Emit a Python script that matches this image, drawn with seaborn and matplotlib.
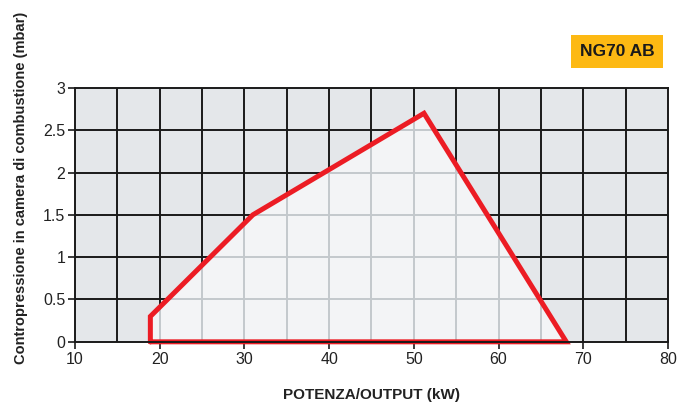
import matplotlib
matplotlib.use("Agg")
import matplotlib.pyplot as plt
import seaborn as sns
import numpy as np
import pandas as pd
from matplotlib.patches import Polygon

# Data
power_kw = [18.9, 18.9, 31.0, 51.2, 68.0, 18.9]
pressure_mbar = [0.0, 0.3, 1.5, 2.7, 0.0, 0.0]
x_ticks = [10, 20, 30, 40, 50, 60, 70, 80]
y_ticks = [0, 0.5, 1, 1.5, 2, 2.5, 3]
y_tick_labels = ["0", "0.5", "1", "1.5", "2", "2.5", "3"]
grid_x = [15, 20, 25, 30, 35, 40, 45, 50, 55, 60, 65, 70, 75]
grid_y = [0.5, 1, 1.5, 2, 2.5]
badge = "NG70 AB"
xlabel = "POTENZA/OUTPUT (kW)"
ylabel = "Contropressione in camera di combustione (mbar)"

sns.set_theme(style="white")
plt.rcParams['font.family'] = ['Liberation Sans', 'DejaVu Sans']

fig = plt.figure(figsize=(6.94, 4.05), dpi=100)
ax = fig.add_axes([0.108, 0.156, 0.8545, 0.627])
ax.set_facecolor("#e4e7ea")
ax.set_xlim(10, 80)
ax.set_ylim(0, 3)

# dark grid
for gx in grid_x:
    ax.axvline(gx, color="#1a1a1a", lw=1.4, zorder=1)
for gy in grid_y:
    ax.axhline(gy, color="#1a1a1a", lw=1.4, zorder=1)

# polygon fill
poly = Polygon(list(zip(power_kw, pressure_mbar)), closed=True,
               facecolor="#f3f4f6", edgecolor="none", zorder=2)
ax.add_patch(poly)

# light grid clipped inside polygon
for gx in grid_x:
    l = ax.axvline(gx, color="#c3c8cc", lw=1.4, zorder=3)
    l.set_clip_path(poly)
for gy in grid_y:
    l = ax.axhline(gy, color="#c3c8cc", lw=1.4, zorder=3)
    l.set_clip_path(poly)

df = pd.DataFrame({"x": power_kw, "y": pressure_mbar})
sns.lineplot(data=df, x="x", y="y", sort=False, estimator=None, ax=ax,
             color="#ec1c24", lw=3.6, zorder=5, solid_joinstyle="miter")
for ln in ax.lines[-1:]:
    ln.set_clip_on(False)

ax.set_xticks(x_ticks)
ax.set_yticks(y_ticks)
ax.set_yticklabels(y_tick_labels)
ax.tick_params(axis="both", which="both", direction="out", length=5, width=1.2,
               color="#1a1a1a", labelsize=11.5, labelcolor="#222222", pad=2,
               bottom=True, left=True)
for s in ax.spines.values():
    s.set_color("#1a1a1a")
    s.set_linewidth(1.4)
    s.set_zorder(6)

ax.set_xlabel(xlabel, fontsize=11, fontweight="bold", color="#222222")
ax.xaxis.set_label_coords(0.5, -0.18)
ax.set_ylabel(ylabel, fontsize=10.5, fontweight="bold", color="#222222")
ax.yaxis.set_label_coords(-0.08, 0.605)

fig.text(0.889, 0.873, badge, fontsize=12.5, fontweight="bold", color="#1a1a1a",
         ha="center", va="center",
         bbox=dict(boxstyle="square,pad=0.5", facecolor="#fdb913", edgecolor="none"))

fig.savefig("out.png", dpi=100)
